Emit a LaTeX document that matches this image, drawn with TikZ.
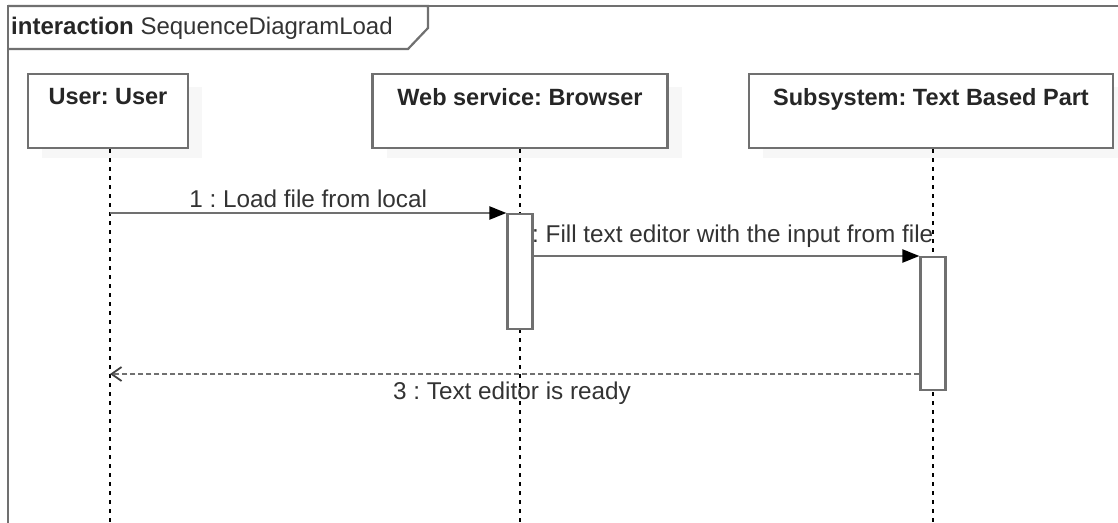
\documentclass[tikz,border=0pt]{standalone}
\usepackage{fontspec}
\setmainfont{Liberation Sans}
\frenchspacing
\usetikzlibrary{arrows.meta}
\definecolor{linegray}{HTML}{707070}
\definecolor{textgray}{HTML}{333333}
\tikzstyle{lifebox} = [draw=linegray, line width=2.2pt, fill=white, minimum width=160pt, minimum height=74pt, anchor=north, inner sep=0pt]
\tikzstyle{shade} = [fill=black!3, draw=none]
\tikzstyle{act} = [draw=linegray, line width=2.2pt, fill=white, minimum width=25pt, anchor=north, inner sep=0pt]
\tikzstyle{lifeline} = [black, line width=1.2pt, dash pattern=on 4pt off 5pt]
\tikzstyle{msg} = [linegray, line width=2.2pt, -{Triangle[length=17pt,width=13pt,color=black]}]
\tikzstyle{reply} = [linegray, line width=2pt, dash pattern=on 5pt off 3pt, -{Straight Barb[length=10pt,width=14pt,line width=1.8pt,color=black!75]}]
\tikzstyle{lbl} = [text=textgray, font=\fontsize{24.3}{28}\selectfont, inner sep=1pt]

\begin{document}
\begin{tikzpicture}[x=1pt,y=-1pt]
    \useasboundingbox (0,0) rectangle (1118,522);
    % frame
    \draw [linegray, line width=2.2pt] (8,530) -- (8,6) -- (1130,6);
    \draw [linegray, line width=2.2pt] (8,6) -- (428,6) -- (428,28) -- (408,49) -- (8,49);
    \node [anchor=west, text=black!85, font=\fontsize{24}{28}\selectfont, inner sep=0pt] (title) at (11,28)
        {\textbf{interaction} \color{textgray}SequenceDiagramLoad};
    % lifelines
    \fill [shade] (42,87) rectangle (202,158);
    \fill [shade] (387,87) rectangle (682,158);
    \fill [shade] (763,87) rectangle (1127,158);
    \node [lifebox, minimum width=160pt] (user) at (108,73) {};
    \node [lifebox, minimum width=295pt] (web) at (520,73) {};
    \node [lifebox, minimum width=364pt] (sub) at (931,73) {};
    \foreach \n/\t in {user/User: User, web/Web service: Browser, sub/Subsystem: Text Based Part}
        \node [anchor=north, font=\bfseries\fontsize{23.5}{28}\selectfont, text=black!85, inner sep=0pt] at ([yshift=-15pt]\n.north) {\t};
    \coordinate (uend) at (110,530);
    \coordinate (wend) at (520,530);
    \coordinate (send) at (933,530);
    \draw [lifeline] (user.south -| uend) -- (uend);
    \draw [lifeline] (web.south -| wend) -- (wend);
    \draw [lifeline] (sub.south -| send) -- (send);
    % activations
    \node [act, minimum height=115pt] (wact) at (520,213) {};
    \node [act, minimum height=133pt] (sact) at (933,256) {};
    % messages
    \coordinate (u1) at (110,213);
    \coordinate (u3) at (110,374);
    \draw [msg] (u1) -- (wact.north west) node [lbl, midway, above=3pt] {1 : Load file from local};
    \draw [msg] (wact.north east |- sact.north west) -- (sact.north west);
    \node [lbl, anchor=west] (m2) at (531,236) {: Fill text editor with the input from file};
    \draw [reply] (sact.west |- u3) -- (u3);
    \node [lbl] (m3) at (512,393) {3 : Text editor is ready};
\end{tikzpicture}
\end{document}
